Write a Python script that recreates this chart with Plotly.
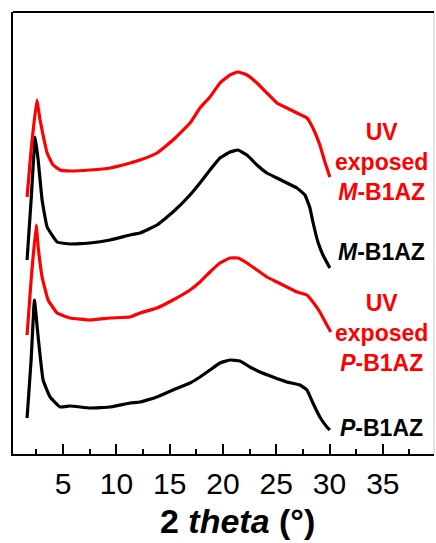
import plotly.graph_objects as go

# 2 theta (deg) and intensity (a.u., offset-stacked)
x_uv_m = [1.62, 2.0, 2.53, 2.84, 3.12, 3.50, 4.06, 4.72, 5.66, 7.53, 9.41, 11.28,
          12.22, 13.81, 15.31, 16.91, 17.84, 18.78, 19.72, 20.66, 21.41, 22.25, 23.19, 24.12,
          25.06, 26.0, 26.94, 27.88, 28.44, 29.09, 29.56, 30.03]
y_uv_m = [257, 304, 354, 334, 319, 301, 289, 284, 283, 284, 286, 291,
          294, 301, 314, 331, 346, 357, 371, 379, 382, 379, 371, 361,
          351, 346, 341, 336, 326, 309, 292, 277]

x_m = [1.62, 2.0, 2.38, 2.66, 3.03, 3.50, 4.44, 5.66, 7.53, 9.41, 11.28,
       12.22, 13.81, 15.31, 16.91, 17.84, 18.78, 19.72, 20.66, 21.41, 22.25, 23.19, 24.12,
       25.06, 26.0, 26.94, 27.69, 28.16, 28.44, 28.91, 29.38, 30.03]
y_m = [194, 254, 317, 294, 254, 227, 212, 210, 211, 214, 219,
       221, 229, 242, 259, 271, 284, 296, 302, 304, 299, 289, 281,
       276, 271, 266, 259, 246, 232, 212, 199, 186]

x_uv_p = [1.62, 2.0, 2.47, 2.66, 3.03, 3.59, 4.44, 5.66, 7.53, 9.41, 11.28,
          12.22, 13.81, 15.31, 16.91, 17.84, 18.78, 19.72, 20.66, 21.41, 22.25, 23.19, 24.12,
          25.06, 26.0, 26.94, 27.88, 28.44, 29.09, 29.75, 30.12]
y_uv_p = [119, 174, 229, 207, 177, 154, 141, 136, 134, 136, 137,
          141, 146, 154, 164, 172, 182, 191, 196, 196, 191, 184, 177,
          172, 167, 162, 159, 152, 142, 129, 122]

x_p = [1.62, 2.0, 2.31, 2.66, 3.12, 3.78, 4.72, 5.66, 7.53, 9.41, 11.28,
       12.22, 13.81, 15.31, 16.91, 17.84, 18.78, 19.72, 20.66, 21.59, 22.53, 23.47, 24.69,
       26.0, 27.22, 27.88, 28.44, 29.09, 29.75, 30.03]
y_p = [36, 94, 154, 117, 74, 57, 47, 48, 46, 47, 51,
       52, 57, 64, 71, 77, 84, 91, 94, 93, 87, 82, 77,
       72, 69, 64, 51, 37, 27, 24]

major_ticks = [5, 10, 15, 20, 25, 30, 35]
minor_ticks = [2.5, 7.5, 12.5, 17.5, 22.5, 27.5, 32.5, 37.5]
tick_labels = [str(v) for v in major_ticks]

RED = "#ff0000"
BLACK = "#000000"
FONT = "Liberation Sans, Arial, sans-serif"

fig = go.Figure()
for xs, ys, c in [(x_p, y_p, BLACK), (x_uv_p, y_uv_p, RED), (x_m, y_m, BLACK), (x_uv_m, y_uv_m, RED)]:
    fig.add_trace(go.Scatter(x=xs, y=ys, mode="lines",
                             line=dict(color=c, width=3.2, shape="spline", smoothing=0.3),
                             showlegend=False, hoverinfo="skip"))

labels = [
    ("<b>UV<br>exposed<br><i>M</i>-B1AZ</b>", RED, 0.876, 0.661),
    ("<b><i>M</i>-B1AZ</b>", BLACK, 0.876, 0.457),
    ("<b>UV<br>exposed<br><i>P</i>-B1AZ</b>", RED, 0.876, 0.274),
    ("<b><i>P</i>-B1AZ</b>", BLACK, 0.876, 0.059),
]
for txt, c, ax, ay in labels:
    fig.add_annotation(text=txt, x=ax, y=ay, xref="paper", yref="paper", showarrow=False,
                       xanchor="center", yanchor="middle", align="center",
                       font=dict(family=FONT, size=23, color=c))

fig.add_annotation(text="<b>2 <i>theta</i> (°)</b>", x=0.534, y=-0.152, xref="paper", yref="paper",
                   showarrow=False, xanchor="center", yanchor="middle",
                   font=dict(family=FONT, size=34, color=BLACK))

fig.add_shape(type="line", xref="paper", yref="paper", x0=1, x1=1, y0=0, y1=1,
              line=dict(color="#c8c8c8", width=1))
fig.add_shape(type="line", xref="paper", yref="paper", x0=0, x1=1, y0=1, y1=1,
              line=dict(color=BLACK, width=2))

fig.update_layout(
    width=436, height=543,
    margin=dict(l=13, r=2, t=12, b=89),
    plot_bgcolor="white", paper_bgcolor="white",
    xaxis=dict(range=[0.3, 39.8], tickvals=major_ticks, ticktext=tick_labels,
               ticks="inside", ticklen=10, tickwidth=2, tickcolor=BLACK,
               minor=dict(ticks="inside", ticklen=5, tickwidth=2, tickcolor=BLACK,
                          tickvals=minor_ticks),
               showline=True, linecolor=BLACK, linewidth=2, showgrid=False, zeroline=False,
               tickfont=dict(family=FONT, size=30, color=BLACK), ticklabelstandoff=2,
               tickprefix="<b>", ticksuffix="</b>"),
    yaxis=dict(range=[0, 442], showticklabels=False, ticks="", showgrid=False, zeroline=False,
               showline=True, linecolor=BLACK, linewidth=2),
)

fig.write_html("out.html", config={"displayModeBar": False},
               post_script="document.body.style.margin='0';document.body.style.overflow='hidden';")
